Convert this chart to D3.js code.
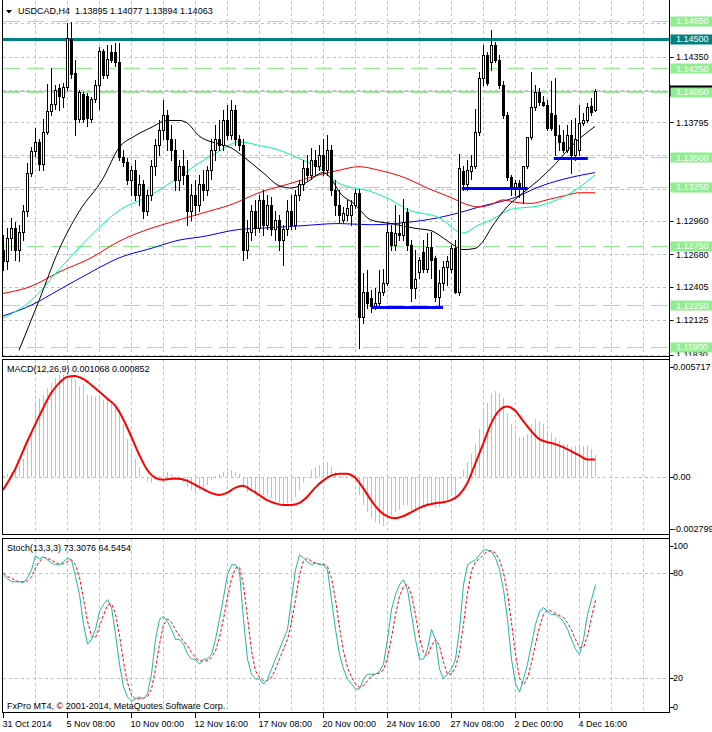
<!DOCTYPE html>
<html><head><meta charset="utf-8">
<script src="https://cdn.jsdelivr.net/npm/d3@7"></script>
<style>
body{margin:0;background:#fff}
svg{display:block}
text{font-family:"Liberation Sans",Arial,sans-serif;font-size:9px;white-space:pre}
</style>
</head><body>
<svg id="c" width="712" height="732"></svg>
<script>
// ---------------- DATA ----------------
const headerText = "USDCAD,H4  1.13895 1.14077 1.13894 1.14063";
const macdTitle = "MACD(12,26,9) 0.001068 0.000852";
const stochTitle = "Stoch(13,3,3) 73.3076 64.5454";
const copyright = "FxPro MT4, © 2001-2014, MetaQuotes Software Corp.";

const timeLabels = ["31 Oct 2014","5 Nov 08:00","10 Nov 00:00","12 Nov 16:00","17 Nov 08:00","20 Nov 00:00","24 Nov 16:00","27 Nov 08:00","2 Dec 00:00","4 Dec 16:00"];
const timeLabelBars = [0,16,32,48,64,80,96,112,128,144];

const opens = [1.1272,1.1262,1.1282,1.1290,1.1272,1.1287,1.1305,1.1337,1.1355,1.1363,1.1344,1.1371,1.1389,1.1395,1.1408,1.1401,1.1409,1.1450,1.1421,1.1382,
1.1403,1.1402,1.1382,1.1399,1.1411,1.1440,1.1419,1.1439,1.1439,1.1430,1.1350,1.1346,1.1331,1.1339,1.1318,1.1327,1.1305,1.1318,1.1343,1.1360,
1.1373,1.1386,1.1365,1.1356,1.1331,1.1343,1.1335,1.1305,1.1318,1.1310,1.1327,1.1322,1.1339,1.1356,1.1365,1.1360,1.1381,1.1369,1.1390,1.1365,
1.1360,1.1272,1.1287,1.1305,1.1290,1.1314,1.1293,1.1310,1.1289,1.1297,1.1280,1.1289,1.1305,1.1293,1.1318,1.1327,1.1341,1.1335,1.1348,1.1343,
1.1352,1.1339,1.1356,1.1322,1.1310,1.1297,1.1301,1.1301,1.1310,1.1320,1.1215,1.1236,1.1231,1.1224,1.1227,1.1236,1.1244,1.1287,1.1276,1.1286,
1.1284,1.1304,1.1276,1.1240,1.1253,1.1270,1.1256,1.1274,1.1265,1.1232,1.1244,1.1257,1.1256,1.1273,1.1236,1.1338,1.1327,1.1338,1.1343,1.1371,
1.1417,1.1436,1.1430,1.1445,1.1432,1.1411,1.1386,1.1333,1.1325,1.1328,1.1325,1.1343,1.1367,1.1392,1.1405,1.1397,1.1394,1.1387,1.1386,1.1369,
1.1363,1.1356,1.1369,1.1352,1.1356,1.1379,1.1381,1.1393,1.13895];
const highs = [1.1284,1.1290,1.1299,1.1295,1.1293,1.1310,1.1345,1.1359,1.1375,1.1365,1.1382,1.1412,1.1425,1.1411,1.1412,1.1413,1.1463,1.1464,1.1432,1.1407,
1.1405,1.1404,1.1401,1.1415,1.1443,1.1441,1.1445,1.1445,1.1446,1.1446,1.1356,1.1349,1.1343,1.1348,1.1335,1.1331,1.1322,1.1348,1.1365,1.1381,
1.1398,1.1390,1.1377,1.1365,1.1348,1.1356,1.1348,1.1327,1.1331,1.1335,1.1339,1.1343,1.1365,1.1377,1.1381,1.1390,1.1394,1.1398,1.1394,1.1369,
1.1365,1.1297,1.1310,1.1314,1.1318,1.1322,1.1318,1.1316,1.1305,1.1301,1.1293,1.1314,1.1318,1.1322,1.1331,1.1348,1.1352,1.1358,1.1356,1.1360,
1.1365,1.1369,1.1360,1.1331,1.1322,1.1308,1.1314,1.1314,1.1323,1.1323,1.1252,1.1255,1.1238,1.1240,1.1255,1.1256,1.1295,1.1293,1.1310,1.1301,
1.1315,1.1307,1.1280,1.1272,1.1266,1.1280,1.1286,1.1287,1.1267,1.1255,1.1262,1.1267,1.1276,1.1280,1.1353,1.1343,1.1348,1.1352,1.1391,1.1422,
1.1445,1.1439,1.1457,1.1447,1.1436,1.1414,1.1388,1.1335,1.1331,1.1331,1.1343,1.1365,1.1422,1.1411,1.1408,1.1402,1.1398,1.1414,1.1417,1.1377,
1.1373,1.1377,1.1381,1.1383,1.1394,1.1387,1.1396,1.1400,1.14077];
const lows = [1.1255,1.1256,1.1272,1.1263,1.1262,1.1280,1.1300,1.1334,1.1351,1.1339,1.1339,1.1370,1.1386,1.1391,1.1390,1.1392,1.1407,1.1417,1.1369,1.1380,
1.1380,1.1376,1.1380,1.1397,1.1391,1.1417,1.1417,1.1430,1.1427,1.1348,1.1343,1.1327,1.1318,1.1314,1.1310,1.1299,1.1301,1.1314,1.1335,1.1352,
1.1365,1.1356,1.1348,1.1322,1.1322,1.1327,1.1293,1.1297,1.1301,1.1305,1.1314,1.1318,1.1332,1.1348,1.1356,1.1356,1.1365,1.1365,1.1360,1.1356,
1.1263,1.1265,1.1280,1.1284,1.1287,1.1284,1.1289,1.1284,1.1280,1.1272,1.1259,1.1284,1.1289,1.1289,1.1314,1.1322,1.1331,1.1332,1.1335,1.1339,
1.1335,1.1335,1.1318,1.1301,1.1295,1.1295,1.1297,1.1293,1.1307,1.1189,1.1210,1.1223,1.1219,1.1222,1.1224,1.1234,1.1242,1.1272,1.1272,1.1280,
1.1280,1.1272,1.1229,1.1231,1.1248,1.1253,1.1253,1.1248,1.1229,1.1225,1.1238,1.1242,1.1253,1.1235,1.1234,1.1322,1.1322,1.1332,1.1341,1.1369,
1.1411,1.1411,1.1424,1.1430,1.1408,1.1383,1.1331,1.1318,1.1318,1.1316,1.1311,1.1341,1.1365,1.1390,1.1394,1.1393,1.1373,1.1373,1.1352,1.1356,
1.1354,1.1354,1.1337,1.1348,1.1352,1.1377,1.1380,1.1386,1.13894];
const closes = [1.1262,1.1282,1.1290,1.1272,1.1287,1.1305,1.1337,1.1355,1.1363,1.1344,1.1371,1.1389,1.1395,1.1407,1.1402,1.1409,1.1451,1.1420,1.1382,1.1405,
1.1382,1.1383,1.1399,1.1411,1.1440,1.1419,1.1433,1.1432,1.1430,1.1350,1.1346,1.1331,1.1339,1.1318,1.1327,1.1305,1.1318,1.1343,1.1360,1.1373,
1.1386,1.1365,1.1356,1.1331,1.1343,1.1335,1.1305,1.1318,1.1310,1.1327,1.1322,1.1339,1.1356,1.1365,1.1360,1.1381,1.1369,1.1390,1.1365,1.1360,
1.1272,1.1287,1.1305,1.1290,1.1314,1.1293,1.1310,1.1289,1.1297,1.1280,1.1289,1.1305,1.1293,1.1318,1.1327,1.1341,1.1335,1.1348,1.1343,1.1352,
1.1339,1.1356,1.1322,1.1310,1.1301,1.1303,1.1307,1.1310,1.1320,1.1215,1.1236,1.1227,1.1224,1.1227,1.1236,1.1244,1.1287,1.1276,1.1286,1.1284,
1.1295,1.1276,1.1240,1.1247,1.1263,1.1256,1.1274,1.1263,1.1232,1.1244,1.1257,1.1262,1.1273,1.1236,1.1341,1.1327,1.1339,1.1343,1.1371,1.1417,
1.1436,1.1413,1.1445,1.1432,1.1411,1.1386,1.1333,1.1325,1.1328,1.1325,1.1343,1.1367,1.1392,1.1405,1.1397,1.1394,1.1375,1.1375,1.1369,1.1363,
1.1356,1.1369,1.1352,1.1365,1.1379,1.1381,1.1392,1.1388,1.14063];

// moving averages: [bar index, value]
const maBlack = [[4,1.1187],[9,1.1229],[14,1.1272],[19,1.1304],[25,1.1332],[29,1.1358],[33,1.1368],[37,1.1375],[41,1.1381],[44,1.1381],[46,1.1379],[49,1.1368],[53,1.1362],[57,1.1358],[61,1.1348],[65,1.1337],[69,1.1326],[72,1.1324],[76,1.1329],[80,1.1337],[82,1.1332],[84,1.1321],[88,1.1310],[92,1.1297],[97,1.1294],[103,1.1290],[107,1.1288],[110,1.1282],[113,1.1275],[115,1.1272],[118,1.1273],[120,1.1279],[122,1.1290],[126,1.1308],[130,1.1320],[134,1.1331],[138,1.1344],[142,1.1359],[148,1.1376]];
const maGreen = [[0,1.1214],[7,1.1229],[14,1.1255],[22,1.1284],[29,1.1305],[37,1.1318],[43,1.1331],[49,1.1345],[54,1.1355],[59,1.1363],[64,1.1360],[69,1.1356],[74,1.1349],[79,1.1341],[84,1.1328],[92,1.1321],[97,1.1314],[101,1.1306],[109,1.1299],[115,1.1286],[119,1.1293],[122,1.1297],[127,1.1306],[134,1.1309],[142,1.1320],[148,1.1335]];
const maRed = [[0,1.1235],[7,1.1241],[14,1.1253],[22,1.1265],[29,1.1279],[37,1.1290],[44,1.1297],[50,1.1303],[57,1.1310],[64,1.1320],[72,1.1328],[79,1.1335],[84,1.1339],[89,1.1342],[94,1.1339],[101,1.1332],[106,1.1324],[112,1.1316],[116,1.1310],[119,1.1308],[122,1.1310],[125,1.1314],[128,1.1312],[132,1.1311],[136,1.1314],[141,1.1318],[144,1.1320],[148,1.1320]];
const maBlue = [[0,1.1216],[7,1.1225],[14,1.1238],[22,1.1253],[29,1.1265],[37,1.1273],[44,1.1280],[50,1.1283],[59,1.1289],[64,1.1290],[74,1.1292],[84,1.1294],[92,1.1293],[101,1.1295],[109,1.1299],[116,1.1305],[119,1.1308],[128,1.1316],[134,1.1325],[142,1.1333],[148,1.1337]];

const macdHist = [0.00007,0.00017,0.00027,0.00037,0.00057,0.00086,0.00145,0.00224,0.00367,0.00381,0.00396,0.00431,0.00455,0.00480,0.00495,0.00500,0.00495,0.00480,0.00470,0.00441,
0.00450,0.00396,0.00391,0.00386,0.00396,0.00372,0.00372,0.00367,0.00357,0.00332,0.00258,0.00185,0.00135,0.00086,0.00047,-0.00002,-0.00022,-0.00027,-0.00012,0.00007,
0.00027,0.00027,0.00017,-0.00012,-0.00012,-0.00022,-0.00047,-0.00062,-0.00071,-0.00062,-0.00052,-0.00037,-0.00012,0.00007,0.00017,0.00027,0.00027,0.00037,0.00027,0.00017,
-0.00052,-0.00071,-0.00071,-0.00076,-0.00071,-0.00086,-0.00086,-0.00101,-0.00111,-0.00126,-0.00135,-0.00126,-0.00121,-0.00096,-0.00062,-0.00022,-0.00002,0.00037,0.00047,0.00057,
0.00062,0.00071,0.00047,0.00027,0.00007,-0.00002,-0.00002,0.00007,0.00012,-0.00086,-0.00135,-0.00170,-0.00199,-0.00219,-0.00229,-0.00234,-0.00199,-0.00185,-0.00170,-0.00160,
-0.00135,-0.00135,-0.00160,-0.00160,-0.00150,-0.00145,-0.00135,-0.00130,-0.00150,-0.00145,-0.00126,-0.00111,-0.00091,-0.00096,-0.00002,0.00037,0.00071,0.00111,0.00160,0.00234,
0.00322,0.00357,0.00406,0.00416,0.00406,0.00381,0.00308,0.00258,0.00224,0.00194,0.00194,0.00209,0.00258,0.00283,0.00273,0.00258,0.00224,0.00214,0.00194,0.00175,
0.00160,0.00160,0.00145,0.00150,0.00155,0.00150,0.00155,0.00135,0.001068];
const macdSignal = [[0,-0.00062],[3,0.00037],[6,0.00170],[9,0.00293],[12,0.00406],[14,0.00455],[16,0.00485],[18,0.00490],[20,0.00475],[23,0.00431],[26,0.00381],[28,0.00347],[30,0.00283],[32,0.00199],[34,0.00111],[36,0.00037],[38,-0.00002],[40,-0.00012],[43,-0.00007],[46,-0.00017],[49,-0.00047],[52,-0.00076],[54,-0.00086],[56,-0.00076],[58,-0.00052],[60,-0.00042],[62,-0.00062],[64,-0.00086],[66,-0.00111],[68,-0.00126],[70,-0.00135],[72,-0.00135],[74,-0.00126],[76,-0.00096],[78,-0.00052],[80,-0.00017],[82,0.00007],[84,0.00017],[86,0.00017],[88,-0.00002],[90,-0.00052],[92,-0.00111],[94,-0.00160],[96,-0.00189],[98,-0.00199],[100,-0.00189],[102,-0.00170],[104,-0.00150],[106,-0.00135],[108,-0.00126],[110,-0.00121],[112,-0.00111],[114,-0.00086],[116,-0.00032],[118,0.00062],[120,0.00160],[122,0.00258],[124,0.00322],[126,0.00342],[128,0.00322],[130,0.00273],[132,0.00224],[134,0.00185],[136,0.00170],[138,0.00160],[140,0.00145],[142,0.00126],[144,0.00106],[146,0.00086],[148,0.000852]];

const stochMain = [79.0,76.7,75.0,75.0,75.0,74.5,77.3,81.8,89.8,88.1,89.2,87.5,85.8,84.7,84.7,86.4,88.6,87.5,77.9,67.7,
50.6,39.3,42.1,47.8,58.0,62.0,64.8,60.3,45.0,27.9,14.9,9.2,6.9,8.1,9.2,8.1,10.9,22.2,42.1,53.5,
55.2,52.3,47.8,42.1,42.1,39.3,33.6,30.8,30.8,27.9,30.8,30.8,33.6,42.1,53.5,66.0,79.0,84.7,84.7,80.7,
53.5,30.8,22.2,19.4,19.4,16.6,19.4,25.1,30.8,36.5,42.1,47.8,64.8,81.8,90.4,88.6,86.4,84.7,85.8,84.7,
84.7,81.8,64.8,47.8,33.6,25.1,19.4,16.6,13.7,13.7,19.4,22.2,22.2,22.2,23.9,27.9,42.1,59.1,67.7,73.3,
76.2,70.5,56.3,42.1,30.8,30.8,36.5,47.8,42.1,25.1,19.4,22.2,25.1,30.8,47.8,73.3,84.7,86.4,87.5,90.4,
93.2,93.2,92.1,88.6,81.8,70.5,53.5,30.8,16.6,12.0,19.4,27.9,39.3,50.6,58.0,60.3,58.0,56.3,56.3,54.6,
52.3,47.8,42.1,36.5,33.6,42.1,56.3,64.8,73.3076];
const stochSignal = [80,78,77,75.5,75,75,75.5,77.7,82.9,86.6,89,88.3,87.3,86,85,85.3,86.6,87.5,84.7,77.7,
65.4,52.5,44,43,49.3,56,61.6,62.4,56.7,44.4,29.3,17.3,10.3,8.1,8.1,8.5,9.4,13.7,25,39.3,
50.3,53.7,51.8,47.4,44,41.2,38.3,34.6,31.7,29.8,29.8,29.8,31.7,35.5,43.1,53.9,66.2,76.6,82.8,83.4,
73,55,35.5,24.1,20.3,18.5,18.5,20.4,25.1,30.8,36.5,42.1,51.6,64.8,79,86.9,88.5,86.6,85.6,85.1,
85.1,83.7,77.1,64.8,48.7,35.5,26,20.4,16.6,14.7,15.6,18.4,21.3,22.2,22.8,24.7,31.3,43,56.3,66.7,
72.4,73.3,67.7,56.3,43.1,34.6,32.7,38.4,42.1,38.3,29,22.2,22.2,26,34.6,50.6,68.6,81.5,86.2,88.1,
90.4,92.3,92.8,91.3,87.5,80.3,68.6,51.6,33.6,19.8,16,19.8,28.9,39.3,49.3,56.3,58.8,58.2,56.9,55.7,
54.4,51.6,47.4,42.1,37.4,37.4,44,54.4,64.5454];

const priceTickLabels = [1.14350,1.13795,1.12960,1.12680,1.12405,1.12125,1.11830];
const priceGrid = [1.14630,1.14350,1.14070,1.13795,1.13515,1.13235,1.12960,1.12680,1.12405,1.12125,1.11830];
const levelLines = [1.14650,1.14250,1.14050,1.13500,1.13250,1.12750,1.12250,1.11900];
const resistanceLevel = 1.14500;
const bidPrice = 1.14063;
// support segments: [fromBar, toBar, price]
const supportSegments = [[92,110,1.12233],[114.7,131.2,1.13237],[137.7,146.2,1.13495]];
const macdLabels = [0.005717,0,-0.002799];
const macdLabelText = ["0.005717","0.00","-0.002799"];
const stochLabels = [100,80,20,0];

// ---------------- LAYOUT ----------------
const L = 2.5, R = 669.5;
const P = {main:[0,356], macd:[359,535], stoch:[538,713]};
const svg = d3.select("#c");
const nBars = closes.length;
const x = d3.scaleLinear().domain([0, nBars-1]).range([3, 3 + 4*(nBars-1)]);
const yM = d3.scaleLinear().domain([1.11822,1.14827]).range([P.main[1],P.main[0]]);
const yD = d3.scaleLinear().domain([-0.002799,0.005717]).range([P.macd[1],P.macd[0]]);
const yS = d3.scaleLinear().domain([0,100]).range([P.stoch[1],P.stoch[0]]);
const snap = v => Math.round(v)+0.5;

const defs = svg.append("defs");
function clip(id, y0, y1){ defs.append("clipPath").attr("id",id).append("rect").attr("x",3).attr("y",y0).attr("width",R-3).attr("height",y1-y0); }
clip("cm",0,P.main[1]); clip("cd",P.macd[0]+1,P.macd[1]); clip("cs",P.stoch[0]+1,P.stoch[1]);
defs.append("clipPath").attr("id","ca").append("rect").attr("x",R).attr("y",0).attr("width",712-R).attr("height",P.main[1]);

// vertical grid
const gridG = svg.append("g").attr("stroke","#c0c0c0").attr("stroke-dasharray","3,3");
const vBars = d3.range(8, 168, 8);
for (const [a,b] of [[P.main[0],P.main[1]],[P.macd[0],P.macd[1]],[P.stoch[0],P.stoch[1]]]) {
  gridG.selectAll(null).data(vBars.filter(v=>x(v)<R-2)).enter().append("line")
    .attr("x1",d=>snap(x(d))).attr("x2",d=>snap(x(d))).attr("y1",a+1).attr("y2",b);
}
gridG.selectAll(null).data(priceGrid).enter().append("line")
  .attr("x1",3).attr("x2",R).attr("y1",d=>snap(yM(d))).attr("y2",d=>snap(yM(d)));
gridG.append("line").attr("x1",3).attr("x2",R).attr("y1",snap(yD(0))).attr("y2",snap(yD(0)));
gridG.selectAll(null).data([80,20]).enter().append("line")
  .attr("x1",3).attr("x2",R).attr("y1",d=>snap(yS(d))).attr("y2",d=>snap(yS(d)));

// main panel content
const gm = svg.append("g").attr("clip-path","url(#cm)");
gm.selectAll(null).data(levelLines).enter().append("line")
  .attr("x1",3).attr("x2",R).attr("y1",d=>snap(yM(d))).attr("y2",d=>snap(yM(d)))
  .attr("stroke","#90ee90").attr("stroke-dasharray","17,7");
gm.append("line").attr("x1",3).attr("x2",R).attr("y1",snap(yM(bidPrice))).attr("y2",snap(yM(bidPrice))).attr("stroke","#c0c0c0");
gm.append("line").attr("x1",3).attr("x2",R).attr("y1",Math.round(yM(resistanceLevel))+0.5).attr("y2",Math.round(yM(resistanceLevel))+0.5)
  .attr("stroke","#008080").attr("stroke-width",3);

const maLine = d3.line().x(d=>x(d[0])).y(d=>yM(d[1])).curve(d3.curveMonotoneX);
[[maBlue,"#0000ff"],[maRed,"#ff0000"],[maGreen,"#00fa9a"],[maBlack,"#000000"]].forEach(([d,c])=>{
  gm.append("path").attr("d",maLine(d)).attr("fill","none").attr("stroke",c).attr("stroke-width",1);
});

const bars = d3.range(nBars);
gm.selectAll(null).data(bars).enter().append("line")
  .attr("x1",i=>snap(x(i))).attr("x2",i=>snap(x(i)))
  .attr("y1",i=>Math.round(yM(highs[i]))).attr("y2",i=>Math.round(yM(lows[i]))+1)
  .attr("stroke","#000");
gm.selectAll(null).data(bars).enter().append("rect")
  .attr("x",i=>Math.round(x(i))-1+0.5).attr("width",2)
  .attr("y",i=>Math.round(yM(Math.max(opens[i],closes[i])))+0.5)
  .attr("height",i=>Math.max(0,Math.round(yM(Math.min(opens[i],closes[i])))-Math.round(yM(Math.max(opens[i],closes[i])))))
  .attr("fill",i=>closes[i]>=opens[i]?"#fff":"#000").attr("stroke","#000");

gm.selectAll(null).data(supportSegments).enter().append("line")
  .attr("x1",d=>x(d[0])).attr("x2",d=>x(d[1])).attr("y1",d=>Math.round(yM(d[2]))+0.5).attr("y2",d=>Math.round(yM(d[2]))+0.5)
  .attr("stroke","#0000ff").attr("stroke-width",3);

// MACD
const gd = svg.append("g").attr("clip-path","url(#cd)");
gd.selectAll(null).data(bars).enter().append("line")
  .attr("x1",i=>snap(x(i))).attr("x2",i=>snap(x(i)))
  .attr("y1",Math.round(yD(0))).attr("y2",i=>Math.round(yD(macdHist[i])))
  .attr("stroke","#c0c0c0");
gd.append("path").attr("d",d3.line().x(d=>x(d[0])).y(d=>yD(d[1])).curve(d3.curveMonotoneX)(macdSignal))
  .attr("fill","none").attr("stroke","#ff0000").attr("stroke-width",2);

// Stoch
const gs = svg.append("g").attr("clip-path","url(#cs)");
gs.append("path").attr("d",d3.line().x((d,i)=>x(i)+0.5).y(d=>yS(d))(stochSignal))
  .attr("fill","none").attr("stroke","#ff0000").attr("stroke-dasharray","3,2");
gs.append("path").attr("d",d3.line().x((d,i)=>x(i)+0.5).y(d=>yS(d))(stochMain))
  .attr("fill","none").attr("stroke","#20b2aa");

// frames
const fr = svg.append("g").attr("stroke","#000").attr("fill","none");
fr.append("line").attr("x1",L).attr("x2",L).attr("y1",0).attr("y2",P.main[1]+1);
fr.append("line").attr("x1",L).attr("x2",R).attr("y1",P.main[1]+0.5).attr("y2",P.main[1]+0.5);
for (const p of [P.macd,P.stoch]) {
  fr.append("rect").attr("x",L).attr("y",p[0]+0.5).attr("width",R-L).attr("height",p[1]-p[0]-1);
}
fr.append("line").attr("x1",R).attr("x2",R).attr("y1",0).attr("y2",P.stoch[1]);

// right price axis labels (main)
const ax = svg.append("g");
const axMain = ax.append("g").attr("clip-path","url(#ca)");
axMain.selectAll(null).data(priceTickLabels).enter().append("line")
  .attr("x1",R).attr("x2",R+4).attr("y1",d=>snap(yM(d))).attr("y2",d=>snap(yM(d))).attr("stroke","#000");
axMain.selectAll(null).data(priceTickLabels).enter().append("text")
  .attr("x",676).attr("y",d=>yM(d)+3.3).attr("fill","#000").text(d=>d.toFixed(5));
// bid price box (hidden behind the level label)
axMain.append("rect").attr("x",R+0.5).attr("y",Math.round(yM(bidPrice))-5.5).attr("width",712-R).attr("height",11).attr("fill","#000");
// level labels
const lvl = axMain.selectAll(null).data(levelLines).enter().append("g");
lvl.append("rect").attr("x",R+1).attr("y",d=>Math.round(yM(d))-4.5).attr("width",712-R).attr("height",10).attr("fill","#90ee90");
lvl.append("text").attr("x",676).attr("y",d=>yM(d)+3.3).attr("fill","#fff").text(d=>d.toFixed(5));
axMain.append("rect").attr("x",R+1).attr("y",Math.round(yM(resistanceLevel))-4.5).attr("width",712-R).attr("height",10).attr("fill","#008080");
axMain.append("text").attr("x",676).attr("y",yM(resistanceLevel)+3.3).attr("fill","#fff").text(resistanceLevel.toFixed(5));

// MACD axis
const macdLabelY = [yD(macdLabels[0])+8, yD(0), yD(macdLabels[2])-6];
ax.selectAll(null).data(macdLabels).enter().append("line")
  .attr("x1",R).attr("x2",R+4).attr("y1",(d,i)=>snap(macdLabelY[i]-0.5)).attr("y2",(d,i)=>snap(macdLabelY[i]-0.5)).attr("stroke","#000");
ax.selectAll(null).data(macdLabelText).enter().append("text")
  .attr("x",673).attr("y",(d,i)=>macdLabelY[i]+3.3).attr("fill","#000").text(d=>d);
// Stoch axis
const stY = d => d===100 ? yS(d)+8 : d===0 ? yS(d)-6 : yS(d);
ax.selectAll(null).data(stochLabels).enter().append("line")
  .attr("x1",R).attr("x2",R+4).attr("y1",d=>snap(stY(d)-0.5)).attr("y2",d=>snap(stY(d)-0.5)).attr("stroke","#000");
ax.selectAll(null).data(stochLabels).enter().append("text")
  .attr("x",673).attr("y",d=>stY(d)+3.3).attr("fill","#000").text(d=>String(d));

// time axis
ax.selectAll(null).data(timeLabelBars).enter().append("line")
  .attr("x1",i=>snap(x(i))).attr("x2",i=>snap(x(i))).attr("y1",P.stoch[1]).attr("y2",P.stoch[1]+5).attr("stroke","#000");
ax.selectAll(null).data(timeLabelBars).enter().append("text")
  .attr("x",i=>x(i)-0.5).attr("y",726.5).attr("fill","#000").text((d,i)=>timeLabels[i]);

// titles
svg.append("path").attr("d","M6,10 L12,10 L9,13.5 Z").attr("fill","#000");
svg.append("text").attr("x",18).attr("y",14.3).attr("fill","#000").text(headerText);
svg.append("text").attr("x",7).attr("y",372.3).attr("fill","#000").text(macdTitle);
svg.append("text").attr("x",7).attr("y",551).attr("fill","#000").text(stochTitle);
svg.append("text").attr("x",7).attr("y",709.3).attr("fill","#000").text(copyright);
</script>
</body></html>
